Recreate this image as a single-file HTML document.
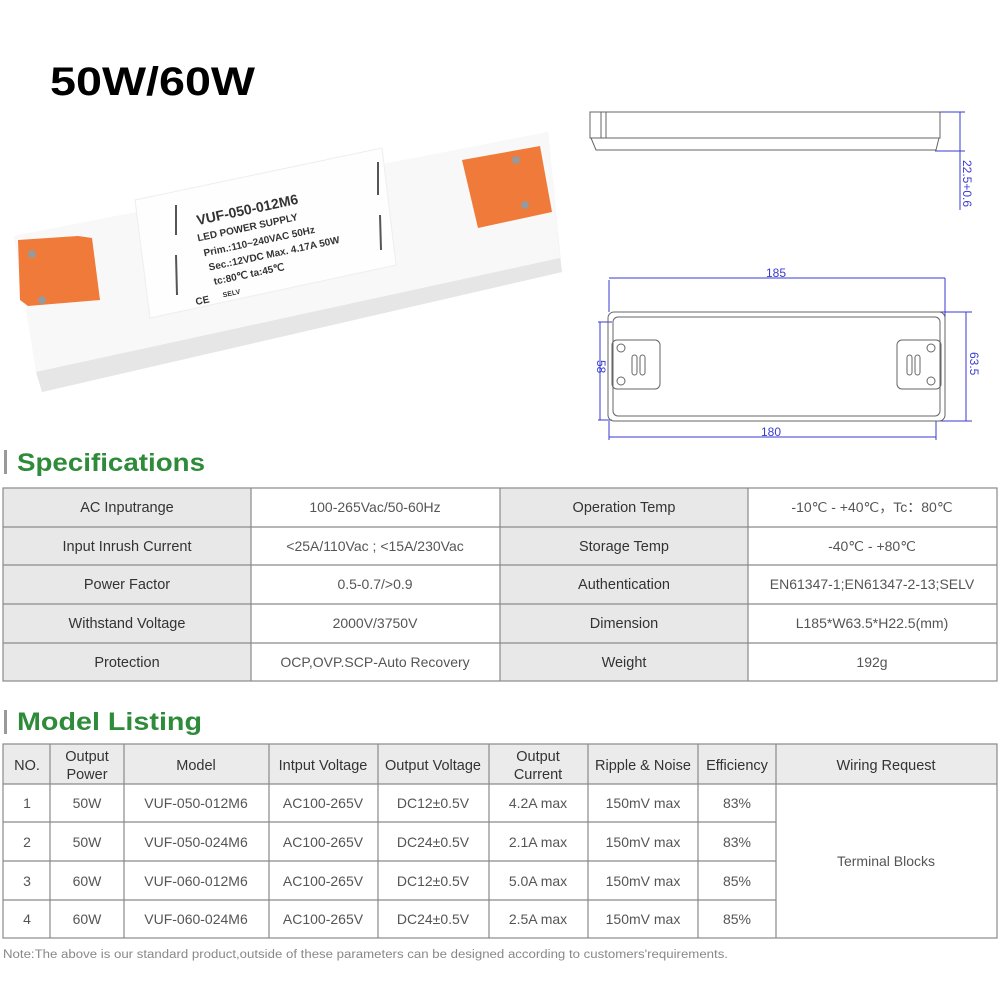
<!DOCTYPE html>
<html><head><meta charset="utf-8"><style>
html,body{margin:0;padding:0;background:#fff;}
svg{display:block;}
</style></head><body>
<svg width="1000" height="1000" viewBox="0 0 1000 1000" xmlns="http://www.w3.org/2000/svg" font-family="Liberation Sans, sans-serif">
<rect width="1000" height="1000" fill="#fff"/>
<text x="50" y="95" font-size="40" font-weight="bold" fill="#000" textLength="205" lengthAdjust="spacingAndGlyphs">50W/60W</text>

<!-- product -->
<polygon points="14,236 548,132 562,272 42,392" fill="#f0f0f0"/>
<polygon points="14,236 548,132 560,258 36,372" fill="#f8f8f8"/>
<polygon points="36,372 560,258 562,272 42,392" fill="#e6e6e6"/>
<polygon points="135,200 382,148 396,265 150,318" fill="#fefefe" stroke="#eee"/>
<polygon points="18,240 78,236 92,238 100,300 28,306 20,300" fill="#f07a3a"/>
<polygon points="462,160 540,146 552,212 478,228" fill="#f07a3a"/>
<circle cx="32" cy="254" r="4" fill="#999"/><circle cx="42" cy="300" r="4" fill="#999"/>
<circle cx="516" cy="160" r="4" fill="#999"/><circle cx="525" cy="205" r="4" fill="#999"/>
<line x1="176" y1="205" x2="176" y2="235" stroke="#555" stroke-width="2"/>
<line x1="176" y1="255" x2="177" y2="295" stroke="#555" stroke-width="2"/>
<line x1="378" y1="162" x2="378" y2="195" stroke="#555" stroke-width="2"/>
<line x1="380" y1="215" x2="381" y2="250" stroke="#555" stroke-width="2"/>
<g transform="rotate(-12 260 220)" fill="#333" font-weight="bold">
<text x="198" y="212" font-size="14">VUF-050-012M6</text>
<text x="195" y="228" font-size="10">LED POWER SUPPLY</text>
<text x="198" y="244" font-size="10">Prim.:110~240VAC 50Hz</text>
<text x="200" y="259" font-size="10">Sec.:12VDC  Max. 4.17A  50W</text>
<text x="202" y="274" font-size="10">tc:80℃  ta:45℃</text>
<text x="180" y="290" font-size="10">CE</text>
<text x="208" y="288" font-size="7">SELV</text>
</g>

<!-- drawing side view -->
<g fill="none" stroke="#666" stroke-width="1">
<rect x="590" y="112" width="350" height="26"/>
<line x1="601" y1="112" x2="601" y2="138"/><line x1="606" y1="112" x2="606" y2="138"/>
<polygon points="591,138 939,138 936,150 596,150"/>
</g>
<g stroke="#3a3ad0" stroke-width="1" fill="none">
<line x1="940" y1="112" x2="965" y2="112"/><line x1="935" y1="151" x2="965" y2="151"/>
<line x1="960" y1="112" x2="960" y2="210"/>
<line x1="609" y1="280" x2="609" y2="312"/><line x1="945" y1="278" x2="945" y2="322"/>
<line x1="609" y1="278" x2="945" y2="278"/>
<line x1="598" y1="322" x2="612" y2="322"/><line x1="598" y1="420" x2="612" y2="420"/>
<line x1="600" y1="322" x2="600" y2="420"/>
<line x1="935" y1="312" x2="972" y2="312"/><line x1="935" y1="421" x2="972" y2="421"/>
<line x1="966" y1="312" x2="966" y2="421"/>
<line x1="609" y1="421" x2="609" y2="440"/><line x1="936" y1="421" x2="936" y2="440"/>
<line x1="609" y1="437" x2="936" y2="437"/>
</g>
<g fill="#3a3ad0" font-size="12">
<text x="776" y="277" text-anchor="middle">185</text>
<text x="771" y="436" text-anchor="middle">180</text>
<text transform="translate(963,160) rotate(90)">22.5+0.6</text>
<text transform="translate(970,352) rotate(90)">63.5</text>
<text transform="translate(597,360) rotate(90)">58</text>
</g>
<g fill="none" stroke="#666" stroke-width="1">
<rect x="608" y="312" width="337" height="109" rx="6"/>
<rect x="613" y="317" width="327" height="99" rx="5"/>
<rect x="612" y="340" width="48" height="49" rx="5"/>
<rect x="897" y="340" width="44" height="49" rx="5"/>
<circle cx="621" cy="348" r="4"/><circle cx="621" cy="381" r="4"/>
<circle cx="931" cy="348" r="4"/><circle cx="931" cy="381" r="4"/>
<rect x="632" y="355" width="5" height="20" rx="2.5"/><rect x="640" y="355" width="5" height="20" rx="2.5"/>
<rect x="907" y="355" width="5" height="20" rx="2.5"/><rect x="915" y="355" width="5" height="20" rx="2.5"/>
</g>

<!-- Specifications -->
<rect x="4" y="450" width="3" height="24" fill="#999"/>
<text x="17" y="471" font-size="25" font-weight="bold" fill="#2e8b3a" textLength="188" lengthAdjust="spacingAndGlyphs">Specifications</text>
<g>
<rect x="3" y="488" width="248" height="193" fill="#e8e8e8"/>
<rect x="500" y="488" width="248" height="193" fill="#e8e8e8"/>
<g stroke="#8a8a8a" stroke-width="1.2" fill="none">
<rect x="3" y="488" width="994" height="193"/>
<line x1="3" y1="527" x2="997" y2="527"/><line x1="3" y1="565" x2="997" y2="565"/>
<line x1="3" y1="604" x2="997" y2="604"/><line x1="3" y1="643" x2="997" y2="643"/>
<line x1="251" y1="488" x2="251" y2="681"/><line x1="500" y1="488" x2="500" y2="681"/>
<line x1="748" y1="488" x2="748" y2="681"/>
</g>
<g font-size="14.5" text-anchor="middle" fill="#333">
<text x="127" y="512">AC Inputrange</text>
<text x="127" y="551">Input Inrush Current</text>
<text x="127" y="589">Power Factor</text>
<text x="127" y="628">Withstand Voltage</text>
<text x="127" y="667">Protection</text>
<text x="624" y="512">Operation Temp</text>
<text x="624" y="551">Storage Temp</text>
<text x="624" y="589">Authentication</text>
<text x="624" y="628">Dimension</text>
<text x="624" y="667">Weight</text>
</g>
<g font-size="14" text-anchor="middle" fill="#555">
<text x="375" y="512">100-265Vac/50-60Hz</text>
<text x="375" y="551">&lt;25A/110Vac ; &lt;15A/230Vac</text>
<text x="375" y="589">0.5-0.7/&gt;0.9</text>
<text x="375" y="628">2000V/3750V</text>
<text x="375" y="667">OCP,OVP.SCP-Auto Recovery</text>
<text x="872" y="512">-10℃ - +40℃，Tc：80℃</text>
<text x="872" y="551">-40℃ - +80℃</text>
<text x="872" y="589">EN61347-1;EN61347-2-13;SELV</text>
<text x="872" y="628">L185*W63.5*H22.5(mm)</text>
<text x="872" y="667">192g</text>
</g>
</g>

<!-- Model Listing -->
<rect x="4" y="710" width="3" height="24" fill="#999"/>
<text x="17" y="730" font-size="25" font-weight="bold" fill="#2e8b3a" textLength="185" lengthAdjust="spacingAndGlyphs">Model Listing</text>
<rect x="3" y="744" width="994" height="40" fill="#ebebeb"/>
<g stroke="#8a8a8a" stroke-width="1.2" fill="none">
<rect x="3" y="744" width="994" height="194"/>
<line x1="3" y1="784" x2="997" y2="784"/>
<line x1="3" y1="822" x2="776" y2="822"/><line x1="3" y1="861" x2="776" y2="861"/><line x1="3" y1="900" x2="776" y2="900"/>
<line x1="50" y1="744" x2="50" y2="938"/><line x1="124" y1="744" x2="124" y2="938"/>
<line x1="269" y1="744" x2="269" y2="938"/><line x1="378" y1="744" x2="378" y2="938"/>
<line x1="489" y1="744" x2="489" y2="938"/><line x1="588" y1="744" x2="588" y2="938"/>
<line x1="698" y1="744" x2="698" y2="938"/><line x1="776" y1="744" x2="776" y2="938"/>
</g>
<g font-size="14.5" text-anchor="middle" fill="#333">
<text x="27" y="770">NO.</text>
<text x="87" y="761">Output</text><text x="87" y="779">Power</text>
<text x="196" y="770">Model</text>
<text x="323" y="770">Intput Voltage</text>
<text x="433" y="770">Output Voltage</text>
<text x="538" y="761">Output</text><text x="538" y="779">Current</text>
<text x="643" y="770">Ripple &amp; Noise</text>
<text x="737" y="770">Efficiency</text>
<text x="886" y="770">Wiring Request</text>
</g>
<g font-size="14" text-anchor="middle" fill="#555">
<text x="27" y="808">1</text><text x="87" y="808">50W</text><text x="196" y="808">VUF-050-012M6</text><text x="323" y="808">AC100-265V</text><text x="433" y="808">DC12±0.5V</text><text x="538" y="808">4.2A max</text><text x="643" y="808">150mV max</text><text x="737" y="808">83%</text>
<text x="27" y="847">2</text><text x="87" y="847">50W</text><text x="196" y="847">VUF-050-024M6</text><text x="323" y="847">AC100-265V</text><text x="433" y="847">DC24±0.5V</text><text x="538" y="847">2.1A max</text><text x="643" y="847">150mV max</text><text x="737" y="847">83%</text>
<text x="27" y="886">3</text><text x="87" y="886">60W</text><text x="196" y="886">VUF-060-012M6</text><text x="323" y="886">AC100-265V</text><text x="433" y="886">DC12±0.5V</text><text x="538" y="886">5.0A max</text><text x="643" y="886">150mV max</text><text x="737" y="886">85%</text>
<text x="27" y="924">4</text><text x="87" y="924">60W</text><text x="196" y="924">VUF-060-024M6</text><text x="323" y="924">AC100-265V</text><text x="433" y="924">DC24±0.5V</text><text x="538" y="924">2.5A max</text><text x="643" y="924">150mV max</text><text x="737" y="924">85%</text>
<text x="886" y="866">Terminal Blocks</text>
</g>
<text x="3" y="958" font-size="11.5" fill="#888" textLength="725" lengthAdjust="spacingAndGlyphs">Note:The above is our standard product,outside of these parameters can be designed according to customers'requirements.</text>
</svg>
</body></html>
